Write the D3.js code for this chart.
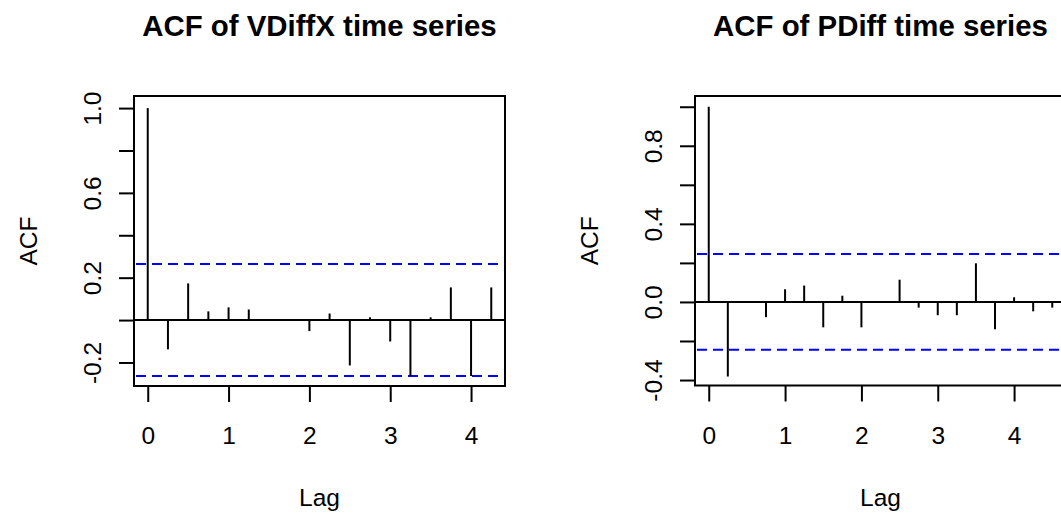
<!DOCTYPE html>
<html>
<head>
<meta charset="utf-8">
<script src="https://cdn.jsdelivr.net/npm/d3@7"></script>
<style>
  body { margin: 0; background: #fff; }
  svg { display: block; font-family: "Liberation Sans", Arial, Helvetica, sans-serif; }
</style>
</head>
<body>
<svg id="chart" width="1061" height="516"></svg>
<script>
// Lags (frequency 4 series, so lag steps of 0.25)
const lagsVDiffX = [0, 0.25, 0.5, 0.75, 1, 1.25, 1.5, 1.75, 2, 2.25, 2.5, 2.75, 3, 3.25, 3.5, 3.75, 4, 4.25];
const acfVDiffX = [1.000, -0.138, 0.173, 0.041, 0.060, 0.050, 0.003, -0.002, -0.052, 0.031, -0.214, 0.013, -0.101, -0.264, 0.013, 0.154, -0.264, 0.154];

const lagsPDiff = [0, 0.25, 0.5, 0.75, 1, 1.25, 1.5, 1.75, 2, 2.25, 2.5, 2.75, 3, 3.25, 3.5, 3.75, 4, 4.25, 4.5];
const acfPDiff = [1.000, -0.382, 0.002, -0.078, 0.065, 0.084, -0.130, 0.032, -0.130, -0.003, 0.114, -0.029, -0.068, -0.068, 0.198, -0.140, 0.024, -0.048, -0.029];

// 95% confidence bounds (+/-)
const ciBounds = [0.264, 0.245];

const titles = ["ACF of VDiffX time series", "ACF of PDiff time series"];
const xTicks = [0, 1, 2, 3, 4];
const yTicksVDiffX = [-0.2, 0, 0.2, 0.4, 0.6, 0.8, 1.0];
const yLabelsVDiffX = ["-0.2", "", "0.2", "", "0.6", "", "1.0"];
const yTicksPDiff = [-0.4, -0.2, 0, 0.2, 0.4, 0.6, 0.8, 1.0];
const yLabelsPDiff = ["-0.4", "", "0.0", "", "0.4", "", "0.8", ""];

const svg = d3.select("#chart");

function drawAcf(opts) {
    const { left, right, top, bottom, xDomain, yDomain, lags, values, ci, title, yTicks, yLabels } = opts;

    const x = d3.scaleLinear().domain(xDomain).range([left, right]);
    const y = d3.scaleLinear().domain(yDomain).range([bottom, top]);
    const g = svg.append("g");

    // zero line and confidence bounds span the plot region
    g.append("line")
        .attr("x1", left).attr("x2", right)
        .attr("y1", y(0)).attr("y2", y(0))
        .attr("stroke", "#000").attr("stroke-width", 2);

    g.selectAll("line.ci")
        .data([ci, -ci])
        .enter()
        .append("line")
        .attr("class", "ci")
        .attr("x1", left + 2).attr("x2", right)
        .attr("y1", d => y(d)).attr("y2", d => y(d))
        .attr("stroke", "#0000ff")
        .attr("stroke-width", 2)
        .attr("stroke-dasharray", "10,6");

    // ACF stems
    g.selectAll("line.stem")
        .data(d3.zip(lags, values))
        .enter()
        .append("line")
        .attr("class", "stem")
        .attr("x1", d => x(d[0])).attr("x2", d => x(d[0]))
        .attr("y1", y(0)).attr("y2", d => y(d[1]))
        .attr("stroke", "#000").attr("stroke-width", 2);

    // box
    g.append("rect")
        .attr("x", left).attr("y", top)
        .attr("width", right - left).attr("height", bottom - top)
        .attr("fill", "none").attr("stroke", "#000").attr("stroke-width", 2);

    // x axis
    const xAxis = g.append("g")
        .attr("transform", `translate(0,${bottom})`)
        .call(d3.axisBottom(x).tickValues(xTicks).tickFormat(d3.format("d")).tickSize(16).tickSizeOuter(0));
    xAxis.select(".domain").remove();
    xAxis.selectAll("line").attr("stroke", "#000").attr("stroke-width", 2);
    xAxis.selectAll("text")
        .attr("y", 58).attr("dy", null)
        .attr("fill", "#000")
        .style("font-size", "24.5px");

    // y axis, labels rotated like R's default las = 0
    const yAxis = g.append("g")
        .attr("transform", `translate(${left},0)`)
        .call(d3.axisLeft(y).tickValues(yTicks).tickFormat((d, i) => yLabels[i]).tickSize(15).tickSizeOuter(0));
    yAxis.select(".domain").remove();
    yAxis.selectAll("line").attr("stroke", "#000").attr("stroke-width", 2);
    yAxis.selectAll("text")
        .attr("x", null).attr("dy", null)
        .attr("text-anchor", "middle")
        .attr("transform", "translate(-33,0) rotate(-90)")
        .attr("fill", "#000")
        .style("font-size", "24.5px");

    // titles
    const cx = (left + right) / 2;
    g.append("text")
        .attr("x", cx).attr("y", 36)
        .attr("text-anchor", "middle")
        .style("font-size", "29.4px").style("font-weight", "bold")
        .text(title);

    g.append("text")
        .attr("x", cx).attr("y", 506)
        .attr("text-anchor", "middle")
        .style("font-size", "24.5px")
        .text("Lag");

    g.append("text")
        .attr("transform", `translate(${left - 97},${(top + bottom) / 2}) rotate(-90)`)
        .attr("text-anchor", "middle")
        .style("font-size", "24.5px")
        .text("ACF");
}

drawAcf({
    left: 134, right: 505, top: 96, bottom: 386,
    xDomain: [-0.17, 4.42], yDomain: [-0.311, 1.057],
    lags: lagsVDiffX, values: acfVDiffX, ci: ciBounds[0],
    title: titles[0], yTicks: yTicksVDiffX, yLabels: yLabelsVDiffX
});

drawAcf({
    left: 695, right: 1066, top: 96, bottom: 385.5,
    xDomain: [-0.18, 4.68], yDomain: [-0.428, 1.055],
    lags: lagsPDiff, values: acfPDiff, ci: ciBounds[1],
    title: titles[1], yTicks: yTicksPDiff, yLabels: yLabelsPDiff
});
</script>
</body>
</html>
